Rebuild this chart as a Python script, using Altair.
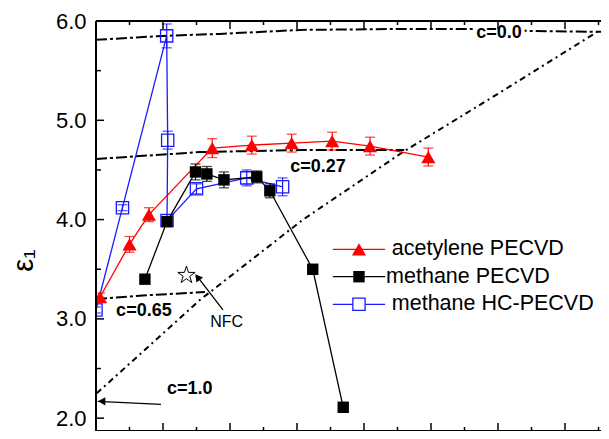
import altair as alt
import pandas as pd

# ---------------- data ----------------
acet_x = [0.12, 1.0, 1.58, 3.47, 4.65, 5.84, 7.05, 8.18, 9.92]
acet_y = [3.22, 3.75, 4.05, 4.72, 4.75, 4.77, 4.79, 4.74, 4.63]
acet_err = [0.04, 0.08, 0.07, 0.095, 0.09, 0.09, 0.09, 0.09, 0.09]

meth_x = [1.46, 2.12, 2.97, 3.31, 3.82, 4.80, 5.19, 6.47, 7.38]
meth_y = [3.40, 3.98, 4.48, 4.46, 4.40, 4.43, 4.29, 3.50, 2.11]
meth_err = [0.04, 0.04, 0.08, 0.075, 0.08, 0.06, 0.07, 0.03, 0.02]

hc_x = [0.0, 0.79, 2.11, 2.14, 2.12, 3.0, 4.50, 5.57]
hc_y = [3.09, 4.12, 5.85, 4.80, 3.99, 4.31, 4.42, 4.33]
hc_err = [0.03, 0.03, 0.12, 0.09, 0.03, 0.05, 0.08, 0.09]

# effective-medium curves
c00_x = [0.0, 2.0, 3.7, 6.09, 9.07, 11.16, 12.96, 15.2]
c00_y = [5.81, 5.85, 5.87, 5.91, 5.92, 5.92, 5.90, 5.89]
c027_x = [0.0, 3.1, 6.1, 9.2]
c027_y = [4.61, 4.68, 4.70, 4.70]
c065_x = [0.0, 1.6, 3.25]
c065_y = [3.20, 3.24, 3.27]
cvar_x = [0.02, 3.1, 6.18, 9.16, 12.06, 14.96]
cvar_y = [2.25, 3.19, 4.00, 4.68, 5.28, 5.89]

nfc_x = [2.7]
nfc_y = [3.44]

labels = ["c=0.0", "c=0.27", "c=0.65", "c=1.0"]
label_x = [12.03, 6.63, 1.43, 2.8]
label_y = [5.88, 4.53, 3.08, 2.29]

legend_names = ["acetylene PECVD", "methane PECVD", "methane HC-PECVD"]
legend_y = [3.70, 3.425, 3.147]

y_major = [2.0, 3.0, 4.0, 5.0, 6.0]
y_minor = [2.5, 3.5, 4.5, 5.5]
x_major = [2, 4, 6, 8, 10, 12, 14]
x_minor = [1, 3, 5, 7, 9, 11, 13, 15]

RED, BLACK, BLUE = "#ff0000", "#000000", "#1a1aff"
W, H = 505, 410
XMAX = W / 33.5
YMAX = 6.0
YMIN = YMAX - H / 99.3
FONT = "Liberation Sans"

xs = alt.Scale(domain=[0, XMAX], nice=False, zero=False)
ys = alt.Scale(domain=[YMIN, YMAX], nice=False, zero=False)
yaxis = alt.Axis(values=y_major, format=".1f", ticks=False, domain=False, grid=False,
                 labelFontSize=22, labelColor="black", labelPadding=10, labelFont=FONT,
                 title="ε₁", titleFontSize=29, titleFontWeight="normal", titleFont=FONT,
                 titleColor="black", titleX=-73, titleY=239, titleAngle=270,
                 titleAlign="center", titleBaseline="middle")


def X(f="x"):
    return alt.X(f"{f}:Q", scale=xs, axis=None)


def Y(f="y"):
    return alt.Y(f"{f}:Q", scale=ys, axis=yaxis)


layers = []

# curves
def curve(xv, yv, dash, sw=2.0):
    df = pd.DataFrame({"x": xv, "y": yv, "i": range(len(xv))})
    return alt.Chart(df).mark_line(color="black", strokeWidth=sw, strokeDash=dash, clip=True).encode(
        x=X(), y=Y(), order="i:Q")

layers.append(curve(c00_x, c00_y, [11, 3, 3, 3]))
layers.append(curve(c027_x, c027_y, [11, 3, 3, 3]))
layers.append(curve(c065_x, c065_y, [11, 3, 3, 3]))
layers.append(curve(cvar_x, cvar_y, [6, 4, 2, 4]))


def series(xv, yv, ev, color, shape, size, filled, sw):
    df = pd.DataFrame({"x": xv, "y": yv, "lo": [a - b for a, b in zip(yv, ev)],
                       "hi": [a + b for a, b in zip(yv, ev)], "i": range(len(xv))})
    caps = pd.DataFrame({"x": xv + xv, "y": [a - b for a, b in zip(yv, ev)] + [a + b for a, b in zip(yv, ev)]})
    base = alt.Chart(df)
    line = base.mark_line(color=color, strokeWidth=1.3, clip=True).encode(x=X(), y=Y(), order="i:Q")
    bars = base.mark_rule(color=color, strokeWidth=1.2, clip=True).encode(x=X(), y=Y("lo"), y2="hi:Q")
    cap = alt.Chart(caps).mark_tick(color=color, orient="horizontal", size=10, thickness=1.3, clip=True).encode(
        x=X(), y=Y())
    if filled:
        pts = base.mark_point(shape=shape, size=size, filled=True, color=color, opacity=1, clip=True).encode(
            x=X(), y=Y())
    else:
        pts = base.mark_point(shape=shape, size=size, filled=False, color=color, strokeWidth=sw,
                              opacity=1, clip=True).encode(x=X(), y=Y())
    return [line, bars, cap, pts]

layers += series(hc_x, hc_y, hc_err, BLUE, "square", 150, False, 1.3)
layers += series(acet_x, acet_y, acet_err, RED, "triangle-up", 200, True, 1)
layers += series(meth_x, meth_y, meth_err, BLACK, "square", 130, True, 1)

# NFC star
star = "M0,-1L0.2245,-0.309L0.951,-0.309L0.363,0.118L0.588,0.809L0,0.382L-0.588,0.809L-0.363,0.118L-0.951,-0.309L-0.2245,-0.309Z"
layers.append(alt.Chart(pd.DataFrame({"x": nfc_x, "y": nfc_y})).mark_point(
    shape=star, size=330, filled=True, fill="white", stroke="black", strokeWidth=1, opacity=1).encode(x=X(), y=Y()))

# arrows
arr = pd.DataFrame({"x": [1.94, 3.79], "y": [2.14, 3.09], "x2": [0.05, 3.06], "y2": [2.17, 3.41]})
layers.append(alt.Chart(arr).mark_rule(color="black", strokeWidth=1.3).encode(
    x=X(), y=Y(), x2="x2:Q", y2="y2:Q"))
layers.append(alt.Chart(pd.DataFrame({"x": [0.17], "y": [2.17]})).mark_point(
    shape="triangle-left", size=70, filled=True, color="black", opacity=1).encode(x=X(), y=Y()))
layers.append(alt.Chart(pd.DataFrame({"x": [3.03], "y": [3.42]})).mark_point(
    shape="triangle-up", size=70, filled=True, color="black", opacity=1, angle=322).encode(x=X(), y=Y()))

# labels
lab = pd.DataFrame({"x": label_x, "y": label_y, "t": labels})
layers.append(alt.Chart(lab.iloc[[0]]).mark_text(
    fontSize=18, fontWeight="bold", font=FONT, color="white", stroke="white", strokeWidth=7).encode(
    x=X(), y=Y(), text="t:N"))
layers.append(alt.Chart(lab).mark_text(fontSize=18, fontWeight="bold", font=FONT, color="black").encode(
    x=X(), y=Y(), text="t:N"))
layers.append(alt.Chart(pd.DataFrame({"x": [3.9], "y": [2.97], "t": ["NFC"]})).mark_text(
    fontSize=16, font=FONT, color="black").encode(x=X(), y=Y(), text="t:N"))

# legend
leg_colors = [RED, BLACK, BLUE]
for k in range(3):
    ldf = pd.DataFrame({"x": [7.07], "x2": [8.63], "y": [legend_y[k]]})
    layers.append(alt.Chart(ldf).mark_rule(color=leg_colors[k], strokeWidth=1.3).encode(
        x=X(), x2="x2:Q", y=Y()))
pt = pd.DataFrame({"x": [7.85], "y": [legend_y[0]]})
layers.append(alt.Chart(pt).mark_point(shape="triangle-up", size=200, filled=True, color=RED, opacity=1).encode(x=X(), y=Y()))
pt = pd.DataFrame({"x": [7.85], "y": [legend_y[1]]})
layers.append(alt.Chart(pt).mark_point(shape="square", size=130, filled=True, color=BLACK, opacity=1).encode(x=X(), y=Y()))
pt = pd.DataFrame({"x": [7.85], "y": [legend_y[2]]})
layers.append(alt.Chart(pt).mark_point(shape="square", size=150, filled=True, fill="white", stroke=BLUE,
                                       strokeWidth=1.3, opacity=1).encode(x=X(), y=Y()))
ltxt = pd.DataFrame({"x": [8.83, 8.66, 8.83], "y": legend_y, "t": legend_names})
layers.append(alt.Chart(ltxt).mark_text(align="left", baseline="middle", fontSize=21.5, font=FONT,
                                        color="black").encode(x=X(), y=Y(), text="t:N"))

# frame (top, left, bottom; the right edge lies beyond the picture)
fr = pd.DataFrame({"v": [0]})
layers.append(alt.Chart(fr).mark_rule(color="black", strokeWidth=2).encode(
    x=alt.value(0), x2=alt.value(W), y=alt.value(0)))
layers.append(alt.Chart(fr).mark_rule(color="black", strokeWidth=2).encode(
    x=alt.value(0), x2=alt.value(W), y=alt.value(H)))
layers.append(alt.Chart(fr).mark_rule(color="black", strokeWidth=2).encode(
    x=alt.value(0), y=alt.value(0), y2=alt.value(H)))

# ticks (inward)
def vticks(vals, length):
    df = pd.DataFrame({"v": vals})
    top = alt.Chart(df).mark_rule(color="black", strokeWidth=1.5).encode(
        x=X("v"), y=alt.value(0), y2=alt.value(length))
    bot = alt.Chart(df).mark_rule(color="black", strokeWidth=1.5).encode(
        x=X("v"), y=alt.value(H), y2=alt.value(H - length))
    return [top, bot]


def hticks(vals, length):
    df = pd.DataFrame({"v": vals})
    left = alt.Chart(df).mark_rule(color="black", strokeWidth=1.5).encode(
        y=Y("v"), x=alt.value(0), x2=alt.value(length))
    return [left]

layers += vticks(x_major, 8) + vticks(x_minor, 4)
layers += hticks(y_major, 8) + hticks(y_minor, 5)

chart = alt.layer(*layers).properties(
    width=W, height=H,
    padding={"left": 88, "top": 13, "right": 0, "bottom": 0},
    autosize=alt.AutoSizeParams(type="none"),
).configure_view(stroke="transparent").configure(font=FONT)

chart.save("out.html", embed_options={"renderer": "svg", "actions": False})
